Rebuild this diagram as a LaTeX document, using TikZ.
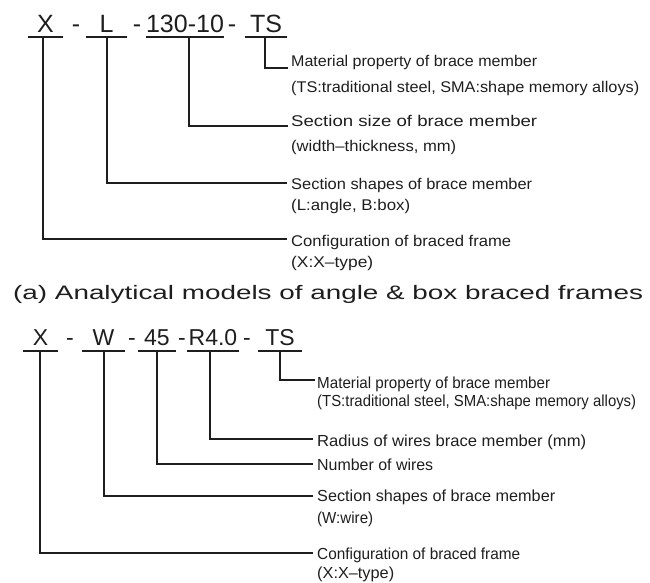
\documentclass[tikz,border=0pt]{standalone}
\usepackage{fontspec}
\setmainfont{Liberation Sans}
\usepackage{graphicx}
% stretch a line of text to a given width (in pt), keeping its height
\newcommand{\fitw}[2]{\resizebox{#1pt}{\height}{#2}}
\definecolor{ink}{HTML}{1E1E1E}
\tikzset{
  hdra/.style={font=\fontsize{25}{25}\selectfont, inner sep=0pt, outer sep=0pt,
               anchor=base, text depth=4pt, text=ink},
  hdrb/.style={font=\fontsize{23}{23}\selectfont, inner sep=0pt, outer sep=0pt,
               anchor=base, text depth=6pt, text=ink},
  dsha/.style={font=\fontsize{25}{25}\selectfont, inner sep=0pt, anchor=base, text=ink},
  dshb/.style={font=\fontsize{23}{23}\selectfont, inner sep=0pt, anchor=base, text=ink},
  desca/.style={font=\fontsize{15.5}{15.5}\selectfont, inner sep=0pt, anchor=base west, text=ink},
  descb/.style={font=\fontsize{16}{16}\selectfont, inner sep=0pt, anchor=base west, text=ink},
  capt/.style={font=\fontsize{19.5}{19.5}\selectfont, inner sep=0pt, anchor=base west, text=ink},
  uline/.style={draw=ink, line width=1.3pt},
  lead/.style={draw=ink, line width=1.3pt},
}
\begin{document}
\begin{tikzpicture}[x=1pt, y=-1pt]
\useasboundingbox (0,0) rectangle (650,583);

% ---------- (a) angle / box braced frames ----------
\node[hdra, minimum width=35pt] (aX)   at (45.5,33) {X};
\node[dsha] (ad1) at (76,33) {-};
\node[hdra, minimum width=41pt] (aL)   at (106.5,33) {L};
\node[dsha] (ad2) at (137,33) {-};
\node[hdra, minimum width=78pt] (aSz)  at (185,33) {130-10};
\node[dsha] (ad3) at (232,33) {-};
\node[hdra, minimum width=42pt] (aTS)  at (266,33) {TS};

\foreach \n in {aX,aL,aSz,aTS}
  \draw[uline] (\n.south west) -- (\n.south east);

\coordinate (aTSe) at (288,68);
\coordinate (aSze) at (288,126);
\coordinate (aLe)  at (287,183);
\coordinate (aXe)  at (287,239);

\draw[lead] ([xshift=-1pt]aTS.south) |- (aTSe);
\draw[lead] ([xshift=4pt]aSz.south) |- (aSze);
\draw[lead] ([xshift=0.5pt]aL.south) |- (aLe);
\draw[lead] ([xshift=-2.5pt]aX.south) |- (aXe);

\node[desca] (aT1) at (291,66.5)  {\fitw{246}{Material property of brace member}};
\node[desca] (aT2) at (291,92.5)  {\fitw{348}{(TS:traditional steel, SMA:shape memory alloys)}};
\node[desca] (aS1) at (291,126.5) {\fitw{246}{Section size of brace member}};
\node[desca] (aS2) at (291,151.5) {\fitw{165}{(width--thickness, mm)}};
\node[desca] (aL1) at (291,189.5) {\fitw{241}{Section shapes of brace member}};
\node[desca] (aL2) at (291,210.5) {\fitw{119}{(L:angle, B:box)}};
\node[desca] (aX1) at (291,246.5) {\fitw{220}{Configuration of braced frame}};
\node[desca] (aX2) at (291,267.5) {\fitw{82}{(X:X--type)}};

\node[capt] (capa) at (13,299) {\fitw{630}{(a) Analytical models of angle \& box braced frames}};

% ---------- (b) wire braced frames ----------
\node[hdrb, minimum width=35pt] (bX)  at (40.5,345) {X};
\node[dshb] (bd1) at (70,345) {-};
\node[hdrb, minimum width=43pt] (bW)  at (103.5,345) {W};
\node[dshb] (bd2) at (132,345) {-};
\node[hdrb, minimum width=38pt] (bN)  at (157,345) {45};
\node[dshb] (bd3) at (182,345) {-};
\node[hdrb, minimum width=52pt] (bR)  at (213,345) {R4.0};
\node[dshb] (bd4) at (247,345) {-};
\node[hdrb, minimum width=44pt] (bTS) at (280,345) {TS};

\foreach \n in {bX,bW,bN,bR,bTS}
  \draw[uline] (\n.south west) -- (\n.south east);

\coordinate (bTSe) at (315,380);
\coordinate (bRe)  at (313,439);
\coordinate (bNe)  at (313,464);
\coordinate (bWe)  at (313,496);
\coordinate (bXe)  at (313,553);

\draw[lead] (bTS.south) |- (bTSe);
\draw[lead] ([xshift=-3pt]bR.south) |- (bRe);
\draw[lead] (bN.south) |- (bNe);
\draw[lead] ([xshift=0.5pt]bW.south) |- (bWe);
\draw[lead] ([xshift=-0.5pt]bX.south) |- (bXe);

\node[descb] (bT1) at (317,388) {\fitw{233}{Material property of brace member}};
\node[descb] (bT2) at (317,406) {\fitw{319}{(TS:traditional steel, SMA:shape memory alloys)}};
\node[descb] (bR1) at (317,446) {\fitw{269}{Radius of wires brace member (mm)}};
\node[descb] (bN1) at (317,470) {\fitw{116}{Number of wires}};
\node[descb] (bW1) at (317,501) {\fitw{238}{Section shapes of brace member}};
\node[descb] (bW2) at (317,523) {\fitw{56}{(W:wire)}};
\node[descb] (bX1) at (317,559) {\fitw{203}{Configuration of braced frame}};
\node[descb] (bX2) at (317,578) {\fitw{77}{(X:X--type)}};
\end{tikzpicture}
\end{document}
